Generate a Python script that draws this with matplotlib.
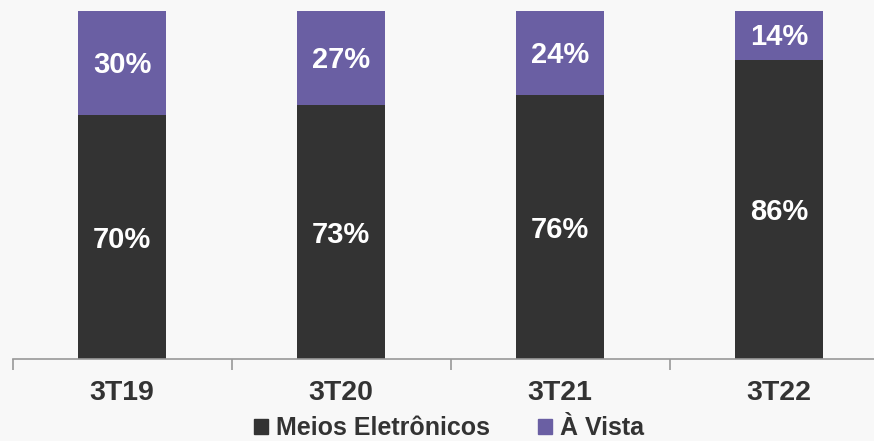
import matplotlib
matplotlib.use("Agg")
import matplotlib.pyplot as plt
from matplotlib.patches import Patch

categories = ["3T19", "3T20", "3T21", "3T22"]
meios_eletronicos = [70, 73, 76, 86]
a_vista = [30, 27, 24, 14]

dark = "#333333"
purple = "#6a5fa3"
bg = "#f8f8f8"

plt.rcParams["font.family"] = ["Liberation Sans", "DejaVu Sans"]

fig = plt.figure(figsize=(8.74, 4.41), dpi=100, facecolor=bg)
W, H = 874, 441
ax = fig.add_axes([12.5 / W, 1 - 359 / H, (874 - 12.5) / W, (359 - 11) / H])
ax.set_facecolor(bg)

x = list(range(len(categories)))
width = 0.40
ax.bar(x, meios_eletronicos, width, color=dark, label="Meios Eletrônicos")
ax.bar(x, a_vista, width, bottom=meios_eletronicos, color=purple, label="À Vista")

for xi, m, v in zip(x, meios_eletronicos, a_vista):
    ax.annotate(f"{m}%", (xi, m / 2), xytext=(0, -2), textcoords="offset points",
                ha="center", va="center", color="white", fontsize=21, fontweight="bold")
    ax.annotate(f"{v}%", (xi, m + v / 2), xytext=(0, -1.5), textcoords="offset points",
                ha="center", va="center", color="white", fontsize=21, fontweight="bold")

# category boundaries as ticks, labels centred under bars
ax.set_xticks([-0.5, 0.5, 1.5, 2.5, 3.5])
ax.set_xticklabels([])
ax.tick_params(axis="x", length=8, color="#999999", width=1.2, direction="out")
ax.set_ylim(0, 100)
ax.set_xlim(-0.5, (874 - 12.5) / 219 - 0.5)
ax.set_yticks([])
for s in ["top", "right", "left"]:
    ax.spines[s].set_visible(False)
ax.spines["bottom"].set_color("#999999")
ax.spines["bottom"].set_linewidth(1.2)

for xi, c in zip(x, categories):
    ax.text(xi, -9.8, c, ha="center", va="center", color=dark, fontsize=20.5,
            fontweight="bold", clip_on=False)

handles = [Patch(color=dark, label="Meios Eletrônicos"), Patch(color=purple, label="À Vista")]
leg = fig.legend(handles=handles, loc="center", bbox_to_anchor=(449 / W, 1 - 428 / H),
                 ncol=2, frameon=False, handlelength=0.55, handleheight=0.55,
                 handletextpad=0.3, columnspacing=1.95,
                 prop={"weight": "bold", "size": 18})
for t in leg.get_texts():
    t.set_color(dark)

fig.savefig("out.png", dpi=100, facecolor=bg)
